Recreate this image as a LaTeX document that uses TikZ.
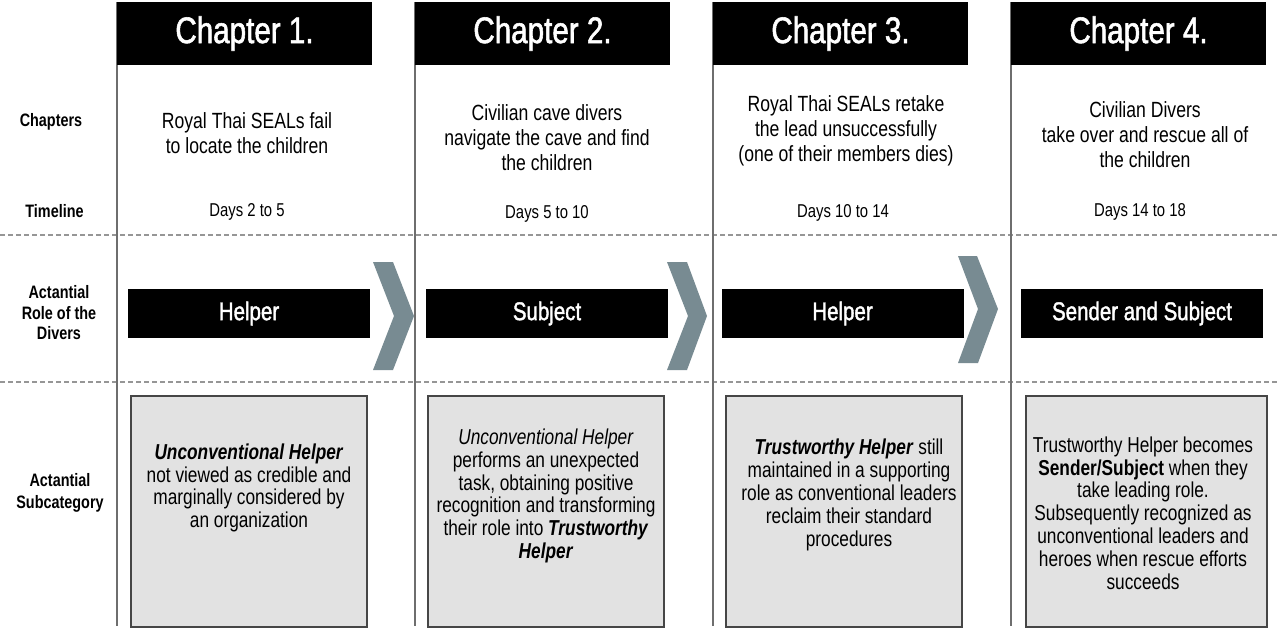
\documentclass[tikz,border=0pt]{standalone}
\usepackage{fontspec}
\setmainfont{Liberation Sans}[FakeStretch=0.8]
\newfontfamily\medfont{Liberation Sans}[FakeStretch=0.8,FakeBold=1.5]
\definecolor{chevgray}{RGB}{120,139,146}
\definecolor{boxgray}{RGB}{226,226,226}
\definecolor{boxedge}{RGB}{70,70,70}
\definecolor{linegray}{RGB}{110,110,110}
\definecolor{sepgray}{RGB}{150,150,150}
\begin{document}
\begin{tikzpicture}[x=0.5pt,y=-0.5pt,
 hdr/.style={fill=black,text=white,minimum width=127.5pt,minimum height=31.5pt,inner sep=0pt,font=\medfont\fontsize{18.5}{20}\selectfont},
 role/.style={fill=black,text=white,minimum width=121pt,minimum height=24.5pt,inner sep=0pt,font=\medfont\fontsize{12.8}{14}\selectfont},
 sbox/.style={fill=boxgray,draw=boxedge,line width=0.8pt,minimum height=115.5pt,inner sep=0pt},
 lbl/.style={font=\bfseries\fontsize{9}{10.25}\selectfont,align=center,inner sep=0pt},
 chtext/.style={font=\fontsize{11}{12.5}\selectfont,align=center,inner sep=0pt},
 days/.style={font=\fontsize{9.3}{11}\selectfont,inner sep=0pt},
 btext/.style={font=\fontsize{10.8}{11.4}\selectfont,align=center,inner sep=0pt},
 sep/.style={draw=sepgray,line width=0.7pt,dash pattern=on 2.5pt off 1.5pt},
 colline/.style={draw=linegray,line width=1pt},
 chev/.style={fill=chevgray}
]
\useasboundingbox (0,0) rectangle (1280,631);
% separators
\draw[sep] (0,235) -- (1280,235);
\draw[sep] (0,382) -- (1280,382);
% column lines
\draw[colline] (117,2) -- (117,626);
\draw[colline] (415,2) -- (415,626);
\draw[colline] (713,2) -- (713,626);
\draw[colline] (1011,2) -- (1011,626);
% headers
\node[hdr] (h1) at (244.5,33.5) {Chapter 1.};
\node[hdr] (h2) at (542.5,33.5) {Chapter 2.};
\node[hdr] (h3) at (840.5,33.5) {Chapter 3.};
\node[hdr] (h4) at (1138.5,33.5) {Chapter 4.};
% left labels
\node[lbl] (lchap) at (51,122) {Chapters};
\node[lbl] (ltime) at (54.5,211) {Timeline};
\node[lbl] (lrole) at (59,313) {Actantial\\Role of the\\Divers};
\node[lbl,font=\bfseries\fontsize{9}{11}\selectfont] (lsub) at (60,493) {Actantial\\Subcategory};
% chapter texts
\node[chtext] (c1) at (247,133) {Royal Thai SEALs fail\\to locate the children};
\node[chtext] (c2) at (547,138) {Civilian cave divers\\navigate the cave and find\\the children};
\node[chtext] (c3) at (846,131) {Royal Thai SEALs retake\\the lead unsuccessfully\\(one of their members dies)};
\node[chtext] (c4) at (1145,135) {Civilian Divers\\take over and rescue all of\\the children};
% days
\node[days] (d1) at (247,212) {Days 2 to 5};
\node[days] (d2) at (547,214) {Days 5 to 10};
\node[days] (d3) at (843,213) {Days 10 to 14};
\node[days] (d4) at (1140,212) {Days 14 to 18};
% roles
\node[role] (r1) at (249,313.5) {Helper};
\node[role] (r2) at (547,313.5) {Subject};
\node[role] (r3) at (842.5,313.5) {Helper};
\node[role] (r4) at (1142,313.5) {Sender and Subject};
% chevrons
\fill[chev] (373,262) -- (393,262) -- (414,316) -- (393,370) -- (373,370) -- (394,316) -- cycle;
\fill[chev] (667,262) -- (687,262) -- (707,316) -- (687,370) -- (667,370) -- (688,316) -- cycle;
\fill[chev] (958,256) -- (977,256) -- (998,309) -- (978,363) -- (958,363) -- (978,309) -- cycle;
% subcategory boxes
\node[sbox,minimum width=118pt] (b1) at (249,511.5) {};
\node[sbox,minimum width=118pt] (b2) at (546,511.5) {};
\node[sbox,minimum width=118pt] (b3) at (844,511.5) {};
\node[sbox,minimum width=120.5pt] (b4) at (1146.5,511.5) {};
\node[btext] (t1) at (249,488) {\textbf{\textit{Unconventional Helper}}\\not viewed as credible and\\marginally considered by\\an organization};
\node[btext] (t2) at (546,496) {\textit{Unconventional Helper}\\performs an unexpected\\task, obtaining positive\\recognition and transforming\\their role into \textbf{\textit{Trustworthy}}\\\textbf{\textit{Helper}}};
\node[btext] (t3) at (849,495) {\textbf{\textit{Trustworthy Helper}} still\\maintained in a supporting\\role as conventional leaders\\reclaim their standard\\procedures};
\node[btext] (t4) at (1143,513) {Trustworthy Helper becomes\\\textbf{Sender/Subject} when they\\take leading role.\\Subsequently recognized as\\unconventional leaders and\\heroes when rescue efforts\\succeeds};
\end{tikzpicture}
\end{document}
